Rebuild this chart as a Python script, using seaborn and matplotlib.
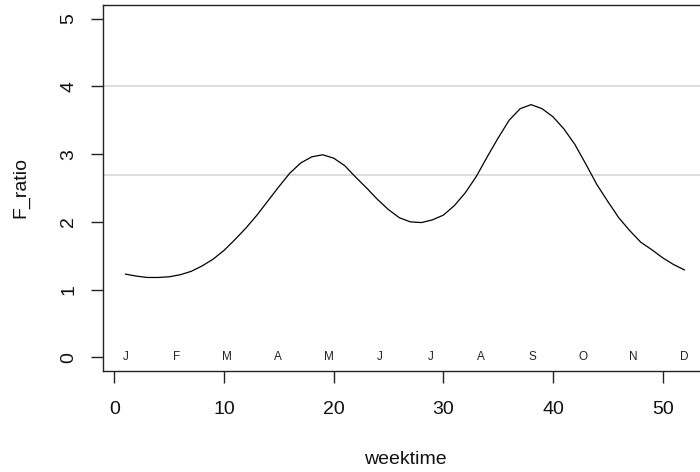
import numpy as np
import pandas as pd
import matplotlib
matplotlib.use("Agg")
import matplotlib.pyplot as plt
import seaborn as sns

# Weekly F ratio over the year
weeks = list(range(1, 53))
f_ratio = [1.23, 1.20, 1.18, 1.18, 1.19, 1.22, 1.27, 1.35, 1.45, 1.58,
           1.74, 1.91, 2.10, 2.31, 2.52, 2.72, 2.87, 2.96, 2.99, 2.94,
           2.83, 2.66, 2.50, 2.33, 2.18, 2.06, 2.00, 1.99, 2.03, 2.10,
           2.24, 2.43, 2.67, 2.96, 3.24, 3.50, 3.67, 3.73, 3.67, 3.55,
           3.37, 3.14, 2.85, 2.55, 2.30, 2.06, 1.87, 1.70, 1.59, 1.47,
           1.37, 1.29]

month_labels = ["J", "F", "M", "A", "M", "J", "J", "A", "S", "O", "N", "D"]
ref_levels = [4.0, 2.69]
x_ticks = [0, 10, 20, 30, 40, 50]
y_ticks = [0, 1, 2, 3, 4, 5]

df = pd.DataFrame({"weektime": weeks, "F_ratio": f_ratio})

sns.set_style("white")
plt.rcParams["font.family"] = ["Liberation Sans", "DejaVu Sans"]

fig = plt.figure(figsize=(7.0, 4.72), dpi=100)
ax = fig.add_axes([103 / 700, 101 / 472, 604 / 700, 366 / 472])

for lvl in ref_levels:
    ax.axhline(lvl, color="#d3d3d3", lw=1.1, zorder=1)

sns.lineplot(data=df, x="weektime", y="F_ratio", color="black", lw=0.9,
             ax=ax, zorder=3)

# month initials spread evenly along the baseline
month_pos = np.linspace(1, 52, len(month_labels))
for xp, lab in zip(month_pos, month_labels):
    ax.text(xp, 0, lab, ha="center", va="center", fontsize=8.5,
            color="#222222")

ax.set_xlim(-1.04, 54.04)
ax.set_ylim(-0.2, 5.2)
ax.set_xticks(x_ticks)
ax.set_yticks(y_ticks)
ax.set_yticklabels([str(v) for v in y_ticks], rotation=90, va="center")

for s in ax.spines.values():
    s.set_color("#222222")
    s.set_linewidth(1.0)

ax.tick_params(axis="both", which="major", bottom=True, left=True,
               direction="out", length=8.5, width=1.0,
               color="#222222", labelsize=14, labelcolor="#111111")
ax.tick_params(axis="x", pad=13)
ax.tick_params(axis="y", pad=10)

ax.set_xlabel("weektime", fontsize=14, color="#111111", labelpad=24)
ax.set_ylabel("F_ratio", fontsize=14, color="#111111", labelpad=22)

fig.savefig("out.png", dpi=100)
